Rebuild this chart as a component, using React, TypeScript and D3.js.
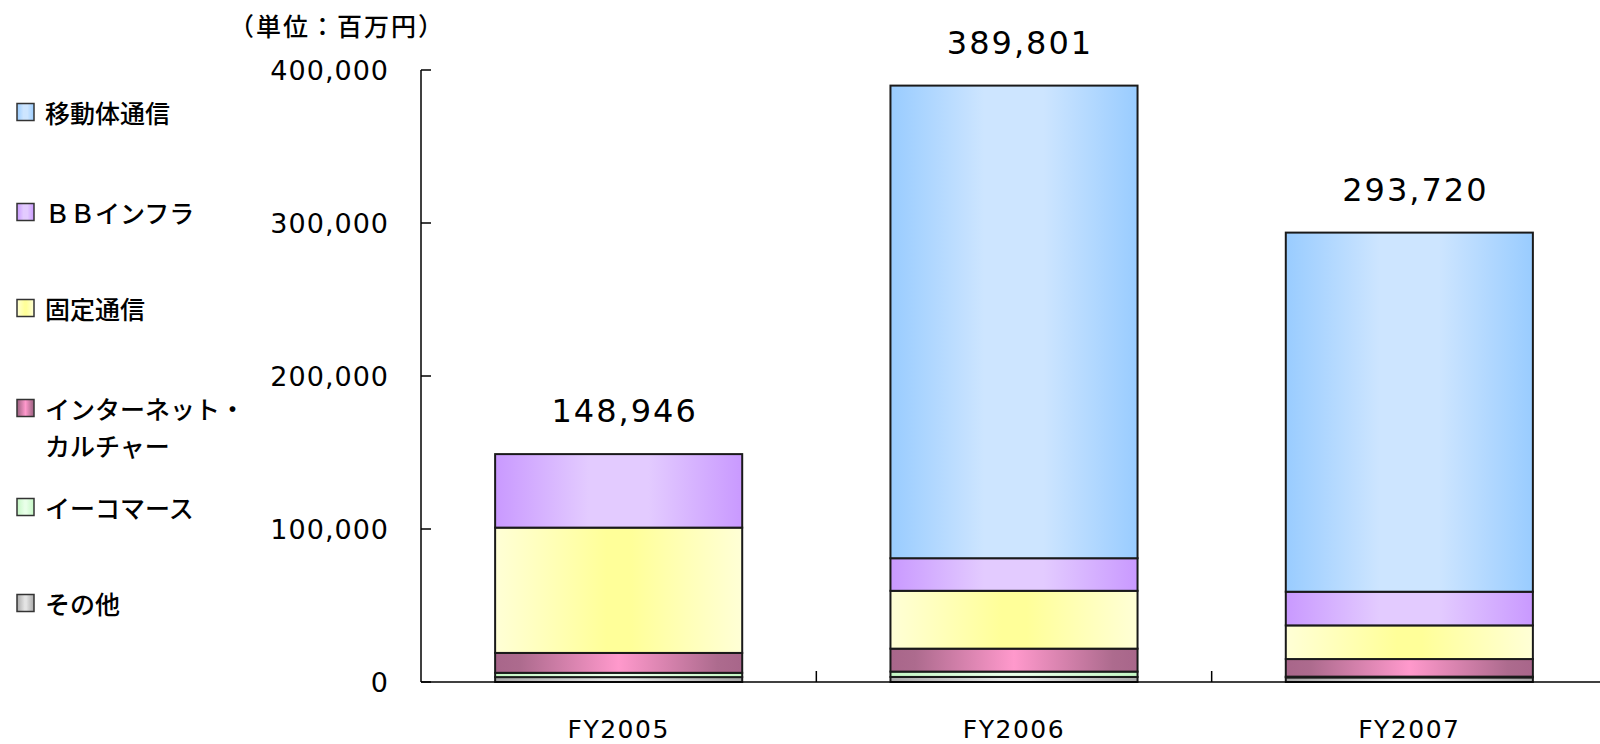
import React from "react";
import * as d3 from "d3";

const categories = ["FY2005", "FY2006", "FY2007"];
const seriesKeys = ["other", "ecommerce", "internet", "fixed", "bb", "mobile"];
const seriesLabels = ["その他", "イーコマース", "インターネット・カルチャー", "固定通信", "ＢＢインフラ", "移動体通信"];
const other = [3200, 3300, 3000];
const ecommerce = [2800, 3500, 500];
const internet = [13000, 15000, 11500];
const fixed = [81900, 37800, 22000];
const bb = [48046, 21300, 22000];
const mobile = [0, 308901, 234720];
const totals = [148946, 389801, 293720];
const totalLabels = ["148,946", "389,801", "293,720"];
const yTicks = [0, 100000, 200000, 300000, 400000];
const unitLabel = "（単位：百万円）";

const W = 1600;
const H = 744;

// gradient colours: edge -> center -> edge
const gradStops: Record<string, { offset: number; color: string }[]> = {
  other: [
    { offset: 0, color: "#a9a9a9" },
    { offset: 0.45, color: "#e4e4e4" },
    { offset: 0.55, color: "#e4e4e4" },
    { offset: 1, color: "#a9a9a9" },
  ],
  ecommerce: [
    { offset: 0, color: "#c4f7c4" },
    { offset: 0.45, color: "#e9ffe9" },
    { offset: 0.55, color: "#e9ffe9" },
    { offset: 1, color: "#c4f7c4" },
  ],
  internet: [
    { offset: 0, color: "#a8668a" },
    { offset: 0.1, color: "#ad6b8e" },
    { offset: 0.5, color: "#ff99cc" },
    { offset: 0.9, color: "#ad6b8e" },
    { offset: 1, color: "#a8668a" },
  ],
  fixed: [
    { offset: 0, color: "#ffffd6" },
    { offset: 0.45, color: "#ffff99" },
    { offset: 0.55, color: "#ffff99" },
    { offset: 1, color: "#ffffd6" },
  ],
  bb: [
    { offset: 0, color: "#c999ff" },
    { offset: 0.38, color: "#e3cbff" },
    { offset: 0.62, color: "#e3cbff" },
    { offset: 1, color: "#c999ff" },
  ],
  mobile: [
    { offset: 0, color: "#99ccff" },
    { offset: 0.38, color: "#cde5ff" },
    { offset: 0.62, color: "#cde5ff" },
    { offset: 1, color: "#99ccff" },
  ],
};

const numFont = "'DejaVu Sans', Verdana, sans-serif";
const jpFont = "'Noto Sans CJK JP', 'Noto Sans', sans-serif";

export default function App() {
  const rows = categories.map((c, i) => ({
    category: c,
    other: other[i],
    ecommerce: ecommerce[i],
    internet: internet[i],
    fixed: fixed[i],
    bb: bb[i],
    mobile: mobile[i],
  }));
  const stacked = d3.stack<any>().keys(seriesKeys)(rows);

  const x = d3
    .scaleBand<string>()
    .domain(categories)
    .range([421, 1607])
    .paddingInner(0.375)
    .paddingOuter(0.1875);
  const y = d3.scaleLinear().domain([0, 400000]).range([682, 70]);
  const step = x.step();
  const axisX0 = 421;
  const boundaries = categories.slice(1).map((c) => (x(c) as number) - (step * x.paddingInner()) / 2);

  const legendItems = [
    { key: "mobile", lines: [seriesLabels[5]], y: 112 },
    { key: "bb", lines: [seriesLabels[4]], y: 212 },
    { key: "fixed", lines: [seriesLabels[3]], y: 308 },
    { key: "internet", lines: ["インターネット・", "カルチャー"], y: 408 },
    { key: "ecommerce", lines: [seriesLabels[1]], y: 507 },
    { key: "other", lines: [seriesLabels[0]], y: 603 },
  ];

  return (
    <svg
      width={W}
      height={H}
      style={{ position: "absolute", left: 0, top: 0, background: "#fff" }}
    >
      <defs>
        {seriesKeys.map((k) => (
          <linearGradient key={k} id={`g-${k}`} x1="0" y1="0" x2="1" y2="0">
            {gradStops[k].map((s, j) => (
              <stop key={j} offset={s.offset} stopColor={s.color} />
            ))}
          </linearGradient>
        ))}
      </defs>

      {/* unit label */}
      <text
        x={337}
        y={25}
        textAnchor="middle"
        dominantBaseline="central"
        fontFamily={jpFont}
        fontSize={25}
        fontWeight={500}
        letterSpacing={2}
        fill="#000"
      >
        {unitLabel}
      </text>

      {/* bars */}
      {stacked.map((layer) =>
        layer.map((d, i) => {
          const h = y(d[0]) - y(d[1]);
          if (h <= 0) return null;
          return (
            <rect
              key={`${layer.key}-${i}`}
              x={x(categories[i]) as number}
              y={y(d[1])}
              width={x.bandwidth()}
              height={h}
              fill={`url(#g-${layer.key})`}
              stroke="#1a1a1a"
              strokeWidth={2}
            />
          );
        })
      )}

      {/* axes */}
      <line x1={axisX0} x2={axisX0} y1={y(400000)} y2={y(0)} stroke="#000" strokeWidth={1.5} />
      <line x1={axisX0} x2={W} y1={y(0)} y2={y(0)} stroke="#000" strokeWidth={1.5} />
      {yTicks.map((t) => (
        <g key={t}>
          <line x1={axisX0} x2={axisX0 + 10} y1={y(t)} y2={y(t)} stroke="#000" strokeWidth={1.5} />
          <text
            x={389}
            y={y(t)}
            textAnchor="end"
            dominantBaseline="central"
            fontFamily={numFont}
            fontSize={27}
            letterSpacing={1}
            fill="#000"
          >
            {d3.format(",")(t)}
          </text>
        </g>
      ))}
      {boundaries.map((bx, i) => (
        <line key={i} x1={bx} x2={bx} y1={y(0) - 11} y2={y(0)} stroke="#000" strokeWidth={1.5} />
      ))}
      {categories.map((c) => (
        <text
          key={c}
          x={(x(c) as number) + x.bandwidth() / 2}
          y={729}
          textAnchor="middle"
          dominantBaseline="central"
          fontFamily={numFont}
          fontSize={25}
          letterSpacing={1.5}
          fill="#000"
        >
          {c}
        </text>
      ))}

      {/* total labels */}
      {categories.map((c, i) => (
        <text
          key={c}
          x={(x(c) as number) + x.bandwidth() / 2 + 6}
          y={y(totals[i]) - 43}
          textAnchor="middle"
          dominantBaseline="central"
          fontFamily={numFont}
          fontSize={32}
          letterSpacing={2}
          fill="#000"
        >
          {totalLabels[i]}
        </text>
      ))}

      {/* legend */}
      {legendItems.map((it) => (
        <g key={it.key}>
          <rect
            x={17}
            y={it.y - 8.5}
            width={17}
            height={17}
            fill={`url(#g-${it.key})`}
            stroke="#333"
            strokeWidth={1.5}
          />
          {it.lines.map((ln, j) => (
            <text
              key={j}
              x={45}
              y={it.y + j * 37}
              dominantBaseline="central"
              fontFamily={jpFont}
              fontSize={25}
              fontWeight={500}
              fill="#000"
            >
              {ln}
            </text>
          ))}
        </g>
      ))}
    </svg>
  );
}
